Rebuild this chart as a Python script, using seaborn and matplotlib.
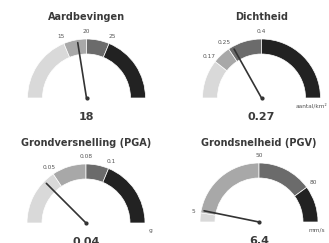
import numpy as np
import matplotlib
matplotlib.use("Agg")
import matplotlib.pyplot as plt
from matplotlib.patches import Wedge
import seaborn as sns

# ---- data ----
titles = ["Aardbevingen", "Dichtheid", "Grondversnelling (PGA)", "Grondsnelheid (PGV)"]
values = [18, 0.27, 0.04, 6.4]
value_labels = ["18", "0.27", "0.04", "6.4"]
scale_min = [0, 0, 0, 0]
scale_max = [40, 0.8, 0.16, 100]
thresholds = [[15, 20, 25], [0.17, 0.25, 0.4], [0.05, 0.08, 0.1], [5, 50, 80]]
threshold_labels = [["15", "20", "25"], ["0.17", "0.25", "0.4"],
                    ["0.05", "0.08", "0.1"], ["5", "50", "80"]]
units = ["", "aantal/km²", "g", "mm/s"]

# ---- style ----
sns.set_theme(style="white")
plt.rcParams['font.family'] = ['DejaVu Sans']
band_colors = ["#d9d9d9", "#a8a8a8", "#6b6b6b", "#222222"]
text_dark = "#3a3a3a"
text_grey = "#555555"

W, H = 329, 243
fig = plt.figure(figsize=(W / 100, H / 100), dpi=100)
fig.patch.set_facecolor("white")

R_OUT = 59.0
R_IN_FRAC = 44.0 / 59.0
centers = [(86.5, 98), (261.5, 98), (86, 223), (259, 222)]
boxes = [(0, 164.5, 0, 121.5), (164.5, 329, 0, 121.5),
         (0, 164.5, 121.5, 243), (164.5, 329, 121.5, 243)]
title_baseline = [20, 20, 146, 146]


def to_angle(v, vmin, vmax):
    frac = (v - vmin) / (vmax - vmin)
    frac = min(max(frac, 0.0), 1.0)
    return 180.0 * (1.0 - frac)


for i in range(4):
    cx, cy = centers[i]
    x0, x1, y0, y1 = boxes[i]
    ax = fig.add_axes([x0 / W, 1 - y1 / H, (x1 - x0) / W, (y1 - y0) / H])
    ax.set_xlim((x0 - cx) / R_OUT, (x1 - cx) / R_OUT)
    ax.set_ylim((cy - y1) / R_OUT, (cy - y0) / R_OUT)
    ax.axis("off")

    vmin, vmax = scale_min[i], scale_max[i]
    stops = [vmin] + list(thresholds[i]) + [vmax]
    for k in range(4):
        a_start = to_angle(stops[k + 1], vmin, vmax)
        a_end = to_angle(stops[k], vmin, vmax)
        ax.add_patch(Wedge((0, 0), 1.0, a_start, a_end, width=1.0 - R_IN_FRAC,
                           facecolor=band_colors[k], edgecolor="white", linewidth=0.5))

    for t, lab in zip(thresholds[i], threshold_labels[i]):
        a = np.deg2rad(to_angle(t, vmin, vmax))
        ax.text(1.13 * np.cos(a), 1.13 * np.sin(a), lab, ha="center", va="center",
                fontsize=4.2, color=text_grey)

    a = np.deg2rad(to_angle(values[i], vmin, vmax))
    ax.plot([0, 0.95 * np.cos(a)], [0, 0.95 * np.sin(a)], color="#333333",
            linewidth=1.2, solid_capstyle="round")
    ax.plot([0], [0], marker="o", markersize=2.0, color="#333333")

    ax.text(0, -13.5 / R_OUT, value_labels[i], ha="center", va="top",
            fontsize=8, fontweight="bold", color=text_dark)
    ax.text(0, (cy - title_baseline[i]) / R_OUT, titles[i], ha="center",
            va="baseline", fontsize=7, fontweight="bold", color=text_dark)
    if units[i]:
        ax.text(1.12, -0.13, units[i], ha="right", va="center",
                fontsize=4.2, color=text_grey)

fig.savefig("out.png", dpi=100, facecolor="white")
